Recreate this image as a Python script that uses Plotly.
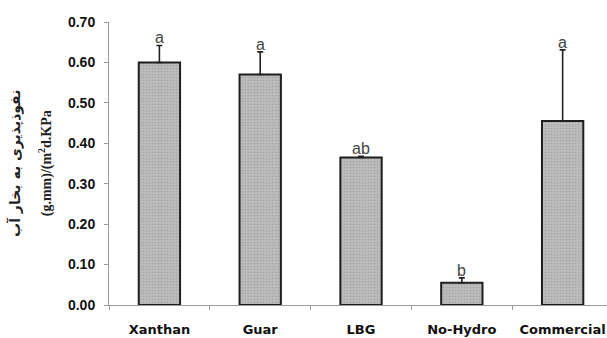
import plotly.graph_objects as go

# Water vapour permeability of the films
categories = ["Xanthan", "Guar", "LBG", "No-Hydro", "Commercial"]
values = [0.60, 0.57, 0.365, 0.055, 0.455]
errors = [0.042, 0.056, 0.003, 0.012, 0.176]
groups = ["a", "a", "ab", "b", "a"]
y_ticks = [0.0, 0.1, 0.2, 0.3, 0.4, 0.5, 0.6, 0.7]

fig = go.Figure()
fig.add_trace(go.Bar(
    x=categories,
    y=values,
    marker=dict(
        color="#b6b6b6",
        line=dict(color="#1e1e1e", width=2),
        pattern=dict(shape=".", fgcolor="#8f8f8f", bgcolor="#bcbcbc",
                     size=3, solidity=0.25),
    ),
    error_y=dict(type="data", array=errors, arrayminus=[0] * len(errors),
                 symmetric=False, color="#222222", thickness=1.6, width=3),
    width=0.41,
    showlegend=False,
))

# significance letters above each whisker
for cat, v, e, g in zip(categories, values, errors, groups):
    fig.add_annotation(x=cat, y=v + e, text=g, showarrow=False,
                       yanchor="bottom", yshift=-3,
                       font=dict(family="Liberation Sans", size=16, color="#444444"))

# two-line y-axis title
fig.add_annotation(xref="paper", yref="paper", x=-0.19, y=0.5,
                   xanchor="center", yanchor="middle", textangle=-90,
                   text="<b>نفوذپذیری به بخار آب</b>", showarrow=False,
                   font=dict(family="DejaVu Sans", size=14, color="#222222"))
fig.add_annotation(xref="paper", yref="paper", x=-0.127, y=0.5,
                   xanchor="center", yanchor="middle", textangle=-90,
                   text="<b>(g.mm)/(m<sup>2</sup>d.KPa</b>", showarrow=False,
                   font=dict(family="Liberation Serif", size=14, color="#222222"))

fig.update_layout(
    width=607, height=338,
    margin=dict(l=109, r=0, t=22, b=33),
    plot_bgcolor="white", paper_bgcolor="white",
    bargap=0.59,
    xaxis=dict(range=[-0.5, 4.44], showline=True, linecolor="#9a9a9a",
               linewidth=1, ticks="outside", tickson="boundaries",
               ticklen=4, tickcolor="#9a9a9a", ticklabelstandoff=12,
               tickfont=dict(family="DejaVu Sans", size=13, color="#111111",
                             weight="bold"),
               showgrid=False, zeroline=False),
    yaxis=dict(range=[0, 0.70], tickvals=y_ticks, tickformat=".2f",
               showline=True, linecolor="#9a9a9a", linewidth=1,
               ticks="outside", ticklen=4, tickcolor="#9a9a9a",
               ticklabelstandoff=6,
               tickfont=dict(family="Liberation Sans", size=14, color="#111111",
                             weight="bold"),
               showgrid=False, zeroline=False),
)

fig.write_html("out.html")
